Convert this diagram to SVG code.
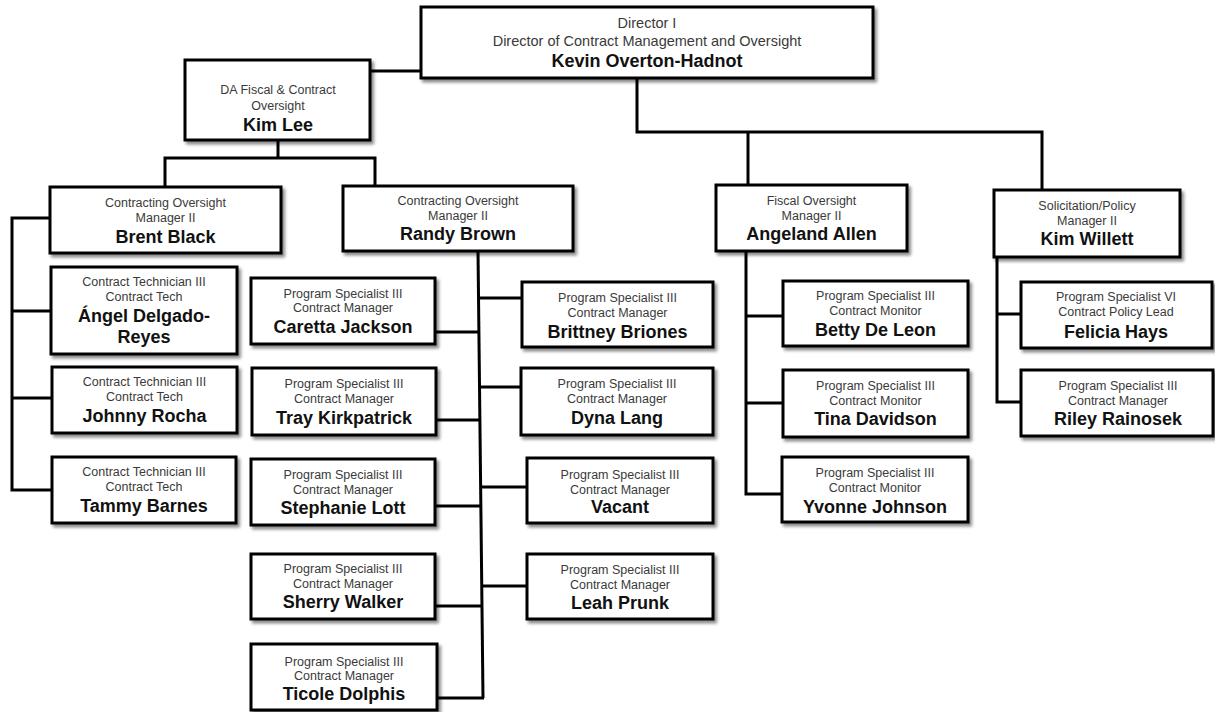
<svg xmlns="http://www.w3.org/2000/svg" width="1215" height="712" viewBox="0 0 1215 712">
<style>
.box{fill:#fff;stroke:#000;stroke-width:3;filter:url(#sh)}
.t{font-family:"Liberation Sans",Arial,sans-serif;font-size:12.5px;fill:#3a3a3a;text-anchor:middle}
.td{font-family:"Liberation Sans",Arial,sans-serif;font-size:14.5px;fill:#3a3a3a;text-anchor:middle}
.n{font-family:"Liberation Sans",Arial,sans-serif;font-size:18px;font-weight:bold;fill:#111;text-anchor:middle}
.c{fill:none;stroke:#000;stroke-width:3;stroke-linejoin:miter}
</style>
<defs>
<filter id="sh" x="-10%" y="-10%" width="125%" height="135%">
<feDropShadow dx="2.5" dy="3" stdDeviation="1.8" flood-color="#000" flood-opacity="0.45"/>
</filter>
</defs>
<rect width="1215" height="712" fill="#fff"/>
<g id="connectors">
<path class="c" d="M370,71 H421"/>
<path class="c" d="M637,78 V132 H1042 V190"/>
<path class="c" d="M748,132 V185"/>
<path class="c" d="M278,140 V158"/>
<path class="c" d="M165,187 V158 H375 V186"/>
<path class="c" d="M50,218 H12 V490 H52"/>
<path class="c" d="M12,311 H51"/>
<path class="c" d="M12,398 H52"/>
<path class="c" d="M478,251 L483,698"/>
<path class="c" d="M435,332 H479"/>
<path class="c" d="M436,420 H480"/>
<path class="c" d="M435,506 H481"/>
<path class="c" d="M435,606 H482"/>
<path class="c" d="M437,698 H484"/>
<path class="c" d="M479,298 H522"/>
<path class="c" d="M480,387 H521"/>
<path class="c" d="M481,487 H527"/>
<path class="c" d="M482,586 H527"/>
<path class="c" d="M746,251 V494 H782"/>
<path class="c" d="M746,316 H783"/>
<path class="c" d="M746,403 H783"/>
<path class="c" d="M997,257 V402 H1021"/>
<path class="c" d="M997,314 H1021"/>
</g>
<g id="director">
<rect class="box" x="421" y="7" width="452" height="71"/>
<text class="td" x="647" y="28">Director I</text>
<text class="td" x="647" y="45.5">Director of Contract Management and Oversight</text>
<text class="n" x="647" y="66.5">Kevin Overton-Hadnot</text>
</g>
<g id="kimlee">
<rect class="box" x="185" y="60" width="185" height="80"/>
<text class="t" x="278" y="94">DA Fiscal &amp; Contract</text>
<text class="t" x="278" y="110">Oversight</text>
<text class="n" x="278" y="131">Kim Lee</text>
</g>
<g id="brent">
<rect class="box" x="50" y="187" width="231" height="66"/>
<text class="t" x="165.5" y="207">Contracting Oversight</text>
<text class="t" x="165.5" y="222">Manager II</text>
<text class="n" x="165.5" y="243">Brent Black</text>
</g>
<g id="randy">
<rect class="box" x="343" y="186" width="230" height="65"/>
<text class="t" x="458" y="204.5">Contracting Oversight</text>
<text class="t" x="458" y="219.5">Manager II</text>
<text class="n" x="458" y="240">Randy Brown</text>
</g>
<g id="angeland">
<rect class="box" x="716" y="185" width="191" height="66"/>
<text class="t" x="811.5" y="204.5">Fiscal Oversight</text>
<text class="t" x="811.5" y="219.5">Manager II</text>
<text class="n" x="811.5" y="240">Angeland Allen</text>
</g>
<g id="kimwillett">
<rect class="box" x="994" y="190" width="186" height="67"/>
<text class="t" x="1087" y="209.5">Solicitation/Policy</text>
<text class="t" x="1087" y="224.5">Manager II</text>
<text class="n" x="1087" y="245">Kim Willett</text>
</g>
<g id="angel">
<rect class="box" x="51" y="267" width="186" height="87"/>
<text class="t" x="144" y="285.5">Contract Technician III</text>
<text class="t" x="144" y="300.5">Contract Tech</text>
<text class="n" x="144" y="321.5">Ángel Delgado-</text>
<text class="n" x="144" y="343">Reyes</text>
</g>
<g id="johnny">
<rect class="box" x="52" y="367" width="185" height="66"/>
<text class="t" x="144.5" y="386">Contract Technician III</text>
<text class="t" x="144.5" y="401">Contract Tech</text>
<text class="n" x="144.5" y="421.5">Johnny Rocha</text>
</g>
<g id="tammy">
<rect class="box" x="52" y="457" width="184" height="66"/>
<text class="t" x="144" y="476">Contract Technician III</text>
<text class="t" x="144" y="490.5">Contract Tech</text>
<text class="n" x="144" y="511.5">Tammy Barnes</text>
</g>
<g id="caretta">
<rect class="box" x="251" y="278" width="184" height="66"/>
<text class="t" x="343" y="298">Program Specialist III</text>
<text class="t" x="343" y="312">Contract Manager</text>
<text class="n" x="343" y="333">Caretta Jackson</text>
</g>
<g id="tray">
<rect class="box" x="252" y="368" width="184" height="67"/>
<text class="t" x="344" y="388">Program Specialist III</text>
<text class="t" x="344" y="403">Contract Manager</text>
<text class="n" x="344" y="424">Tray Kirkpatrick</text>
</g>
<g id="stephanie">
<rect class="box" x="251" y="459" width="184" height="66"/>
<text class="t" x="343" y="478.5">Program Specialist III</text>
<text class="t" x="343" y="493.5">Contract Manager</text>
<text class="n" x="343" y="514">Stephanie Lott</text>
</g>
<g id="sherry">
<rect class="box" x="251" y="554" width="184" height="65"/>
<text class="t" x="343" y="573">Program Specialist III</text>
<text class="t" x="343" y="588">Contract Manager</text>
<text class="n" x="343" y="608">Sherry Walker</text>
</g>
<g id="ticole">
<rect class="box" x="251" y="644" width="186" height="66"/>
<text class="t" x="344" y="666">Program Specialist III</text>
<text class="t" x="344" y="679.5">Contract Manager</text>
<text class="n" x="344" y="700">Ticole Dolphis</text>
</g>
<g id="brittney">
<rect class="box" x="522" y="282" width="191" height="65"/>
<text class="t" x="617.5" y="302">Program Specialist III</text>
<text class="t" x="617.5" y="317">Contract Manager</text>
<text class="n" x="617.5" y="337.5">Brittney Briones</text>
</g>
<g id="dyna">
<rect class="box" x="521" y="368" width="192" height="67"/>
<text class="t" x="617" y="388">Program Specialist III</text>
<text class="t" x="617" y="403">Contract Manager</text>
<text class="n" x="617" y="424">Dyna Lang</text>
</g>
<g id="vacant">
<rect class="box" x="527" y="458" width="186" height="65"/>
<text class="t" x="620" y="478.5">Program Specialist III</text>
<text class="t" x="620" y="493.5">Contract Manager</text>
<text class="n" x="620" y="512.5">Vacant</text>
</g>
<g id="leah">
<rect class="box" x="527" y="554" width="186" height="65"/>
<text class="t" x="620" y="574">Program Specialist III</text>
<text class="t" x="620" y="589">Contract Manager</text>
<text class="n" x="620" y="609">Leah Prunk</text>
</g>
<g id="betty">
<rect class="box" x="783" y="281" width="185" height="65"/>
<text class="t" x="875.5" y="300">Program Specialist III</text>
<text class="t" x="875.5" y="315">Contract Monitor</text>
<text class="n" x="875.5" y="336">Betty De Leon</text>
</g>
<g id="tina">
<rect class="box" x="783" y="370" width="185" height="67"/>
<text class="t" x="875.5" y="389.5">Program Specialist III</text>
<text class="t" x="875.5" y="404.5">Contract Monitor</text>
<text class="n" x="875.5" y="425">Tina Davidson</text>
</g>
<g id="yvonne">
<rect class="box" x="782" y="457" width="186" height="65"/>
<text class="t" x="875" y="477">Program Specialist III</text>
<text class="t" x="875" y="492">Contract Monitor</text>
<text class="n" x="875" y="512.5">Yvonne Johnson</text>
</g>
<g id="felicia">
<rect class="box" x="1021" y="282" width="191" height="66"/>
<text class="t" x="1116" y="301">Program Specialist VI</text>
<text class="t" x="1116" y="316">Contract Policy Lead</text>
<text class="n" x="1116" y="337.5">Felicia Hays</text>
</g>
<g id="riley">
<rect class="box" x="1021" y="370" width="192" height="66"/>
<text class="t" x="1118" y="389.5">Program Specialist III</text>
<text class="t" x="1118" y="404.5">Contract Manager</text>
<text class="n" x="1118" y="425">Riley Rainosek</text>
</g>
</svg>
